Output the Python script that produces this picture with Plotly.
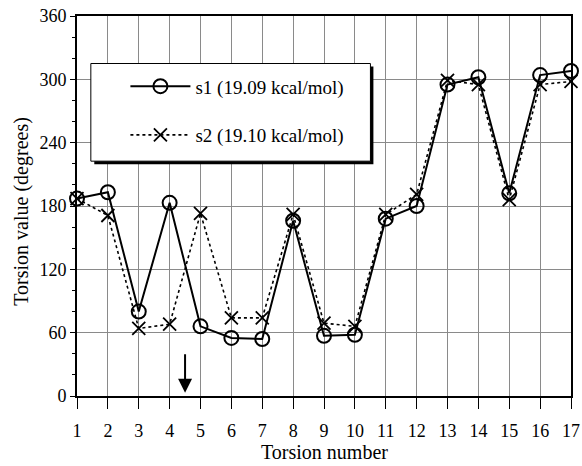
import plotly.graph_objects as go

torsion = list(range(1, 18))
s1 = [187, 193, 80, 183, 66, 55, 54, 166, 57, 58, 168, 180, 295, 302, 192, 304, 308]
s2 = [187, 171, 64, 68, 173, 74, 74, 172, 69, 66, 172, 191, 299, 295, 186, 295, 298]
names = ["s1 (19.09 kcal/mol)", "s2 (19.10 kcal/mol)"]
y_ticks = [0, 60, 120, 180, 240, 300, 360]

FONT = "Liberation Serif, Times New Roman, serif"

fig = go.Figure()
fig.add_trace(go.Scatter(
    x=torsion, y=s1, name=names[0], mode="lines+markers", legendgroup="a",
    line=dict(color="black", width=2),
    marker=dict(symbol="circle-open", size=14, color="black", line=dict(width=2)),
    cliponaxis=False))
fig.add_trace(go.Scatter(
    x=torsion, y=s2, name=names[1], mode="lines+markers", legendgroup="b",
    line=dict(color="black", width=1.6, dash="dot"),
    marker=dict(symbol="x-thin-open", size=13, color="black", line=dict(width=1.8, color="black")),
    cliponaxis=False))

# legend box with shadow
fig.add_shape(type="rect", xref="paper", yref="paper", x0=0.035, x1=0.6, y0=0.61, y1=0.867,
              fillcolor="black", line=dict(width=0), layer="above")
fig.add_shape(type="rect", xref="paper", yref="paper", x0=0.028, x1=0.594, y0=0.618, y1=0.875,
              fillcolor="white", line=dict(color="black", width=1), layer="above")

fig.add_annotation(x=4.5, y=3, ax=4.5, ay=41, xref="x", yref="y", axref="x", ayref="y",
                   showarrow=True, arrowhead=2, arrowsize=1.4, arrowwidth=2, arrowcolor="black", text="")

# axis titles as annotations (fixed positions)
fig.add_annotation(text="Torsion number", xref="paper", yref="paper", x=0.5, y=-56/380,
                   xanchor="center", yanchor="middle", showarrow=False,
                   font=dict(family=FONT, size=20))
fig.add_annotation(text="Torsion value (degrees)", xref="paper", yref="paper", x=-55/494, y=0.485,
                   xanchor="center", yanchor="middle", showarrow=False, textangle=-90,
                   font=dict(family=FONT, size=20))

fig.update_layout(
    width=582, height=466,
    margin=dict(l=77, r=11, t=16, b=70),
    paper_bgcolor="white", plot_bgcolor="white",
    font=dict(family=FONT, size=18, color="black"),
    showlegend=True,
    legend=dict(x=0.098, y=0.865, xanchor="left", yanchor="top", bgcolor="rgba(0,0,0,0)",
                borderwidth=0, font=dict(family=FONT, size=19), itemwidth=60,
                traceorder="grouped", tracegroupgap=21),
    xaxis=dict(range=[1, 17], tickvals=torsion, ticks="outside", ticklen=11, tickcolor="black",
               showgrid=True, gridcolor="#8a8a8a", gridwidth=1, automargin=False,
               showline=True, linecolor="black", linewidth=2, mirror=True,
               zeroline=False, tickfont=dict(family=FONT, size=18), ticklabelstandoff=6),
    yaxis=dict(range=[0, 360], tickvals=y_ticks, ticks="outside", ticklen=5, tickcolor="black",
               showgrid=True, gridcolor="#8a8a8a", gridwidth=1, automargin=False,
               minor=dict(dtick=20, ticks="outside", ticklen=3, tickcolor="black", showgrid=False),
               showline=True, linecolor="black", linewidth=2, mirror=True,
               zeroline=False, tickfont=dict(family=FONT, size=18)),
)

fig.write_html("out.html")
